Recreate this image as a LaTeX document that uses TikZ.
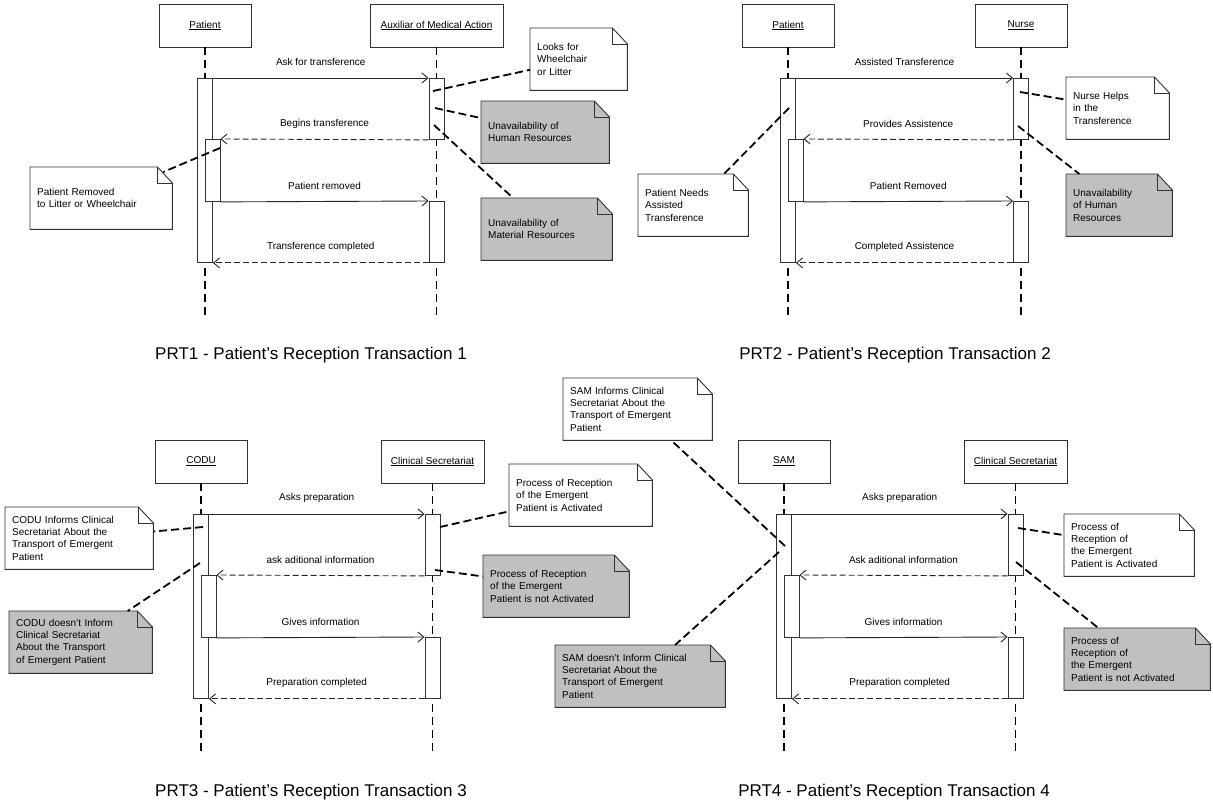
\documentclass[tikz,border=0pt]{standalone}
\usepackage{fontspec}
\setmainfont{Liberation Sans}
\usetikzlibrary{positioning, arrows.meta, backgrounds}
\definecolor{notegray}{RGB}{192,192,192}
\definecolor{linecol}{RGB}{50,50,50}

\begin{document}
\begin{tikzpicture}[x=1pt, y=-1pt, every node/.style={font=\fontsize{10}{12.4}\selectfont}]
  \tikzstyle{actor} = [rectangle, draw=linecol, line width=0.9pt, fill=white, minimum width=92pt, minimum height=43pt, inner sep=0pt]
  \tikzstyle{act} = [rectangle, draw=linecol, line width=0.9pt, fill=white, minimum width=15pt, inner sep=0pt, anchor=north]
  \tikzstyle{note} = [rectangle, anchor=north west, minimum height=62pt, inner xsep=7pt, inner ysep=0pt, align=left]
  \tikzstyle{lifeline} = [draw=black, line width=1.3pt, dash pattern=on 8pt off 5pt]
  \tikzstyle{msg} = [draw=black!85, line width=0.9pt, -{Straight Barb[length=6pt,width=10pt]}]
  \tikzstyle{reply} = [msg, dash pattern=on 6pt off 3pt]
  \tikzstyle{noteline} = [draw=black, line width=1.8pt, dash pattern=on 8pt off 4pt]
  \tikzstyle{title} = [font=\fontsize{17}{20}\selectfont]

  \useasboundingbox (0,0) rectangle (1213,802);
  \coordinate (topend) at (0,319);
  \coordinate (botend) at (0,755);

  \node (pat1) [actor] at (205,25.5) {\underline{Patient}};
  \node (aux1) [actor, minimum width=133pt] at (436.5,25.5) {\underline{Auxiliar of Medical Action}};
  \node (pat2) [actor] at (788,25.5) {\underline{Patient}};
  \node (nurse2) [actor] at (1021,25.5) {\underline{Nurse}};
  \node (codu3) [actor] at (201,461.5) {\underline{CODU}};
  \node (cs3) [actor, minimum width=103pt] at (432.5,461.5) {\underline{Clinical Secretariat}};
  \node (sam4) [actor] at (784,461.5) {\underline{SAM}};
  \node (cs4) [actor, minimum width=103pt] at (1015.5,461.5) {\underline{Clinical Secretariat}};

  \foreach \n in {pat1, aux1, pat2, nurse2}
    \draw [lifeline] (\n.south) -- (\n.south |- topend);
  \foreach \n in {codu3, cs3, sam4, cs4}
    \draw [lifeline] (\n.south) -- (\n.south |- botend);

  \node (pat1a) [act, minimum height=184pt] at (205,78) {};
  \node (pat1b) [act, minimum height=62pt] at (212.5,139) {};
  \node (aux1a) [act, minimum height=61pt] at (436.5,78) {};
  \node (aux1b) [act, minimum height=61pt] at (436.5,201) {};

  \node (pat2a) [act, minimum height=184pt] at (788,78) {};
  \node (pat2b) [act, minimum height=62pt] at (795.5,139) {};
  \node (nurse2a) [act, minimum height=61pt] at (1021,78) {};
  \node (nurse2b) [act, minimum height=61pt] at (1021,201) {};

  \node (codu3a) [act, minimum height=184pt] at (201,514) {};
  \node (codu3b) [act, minimum height=62pt] at (208.5,575) {};
  \node (cs3a) [act, minimum height=61pt] at (432.5,514) {};
  \node (cs3b) [act, minimum height=61pt] at (432.5,637) {};

  \node (sam4a) [act, minimum height=184pt] at (784,514) {};
  \node (sam4b) [act, minimum height=62pt] at (791.5,575) {};
  \node (cs4a) [act, minimum height=61pt] at (1015.5,514) {};
  \node (cs4b) [act, minimum height=61pt] at (1015.5,637) {};

  \draw [msg] (pat1a.north east) -- node (m1a) [yshift=16pt] {Ask for transference} (aux1a.north west);
  \draw [reply] (aux1a.south west) -- node (m1b) [yshift=16pt] {Begins transference} (pat1b.north east);
  \draw [msg] (pat1b.south east) -- node (m1c) [yshift=16pt] {Patient removed} (aux1b.north west);
  \draw [reply] (aux1b.south west) -- node (m1d) [yshift=16pt] {Transference completed} (pat1a.south east);

  \draw [msg] (pat2a.north east) -- node (m2a) [yshift=16pt] {Assisted Transference} (nurse2a.north west);
  \draw [reply] (nurse2a.south west) -- node (m2b) [yshift=16pt] {Provides Assistence} (pat2b.north east);
  \draw [msg] (pat2b.south east) -- node (m2c) [yshift=16pt] {Patient Removed} (nurse2b.north west);
  \draw [reply] (nurse2b.south west) -- node (m2d) [yshift=16pt] {Completed Assistence} (pat2a.south east);

  \draw [msg] (codu3a.north east) -- node (m3a) [yshift=16pt] {Asks preparation} (cs3a.north west);
  \draw [reply] (cs3a.south west) -- node (m3b) [yshift=16pt] {ask aditional information} (codu3b.north east);
  \draw [msg] (codu3b.south east) -- node (m3c) [yshift=16pt] {Gives information} (cs3b.north west);
  \draw [reply] (cs3b.south west) -- node (m3d) [yshift=16pt] {Preparation completed} (codu3a.south east);

  \draw [msg] (sam4a.north east) -- node (m4a) [yshift=16pt] {Asks preparation} (cs4a.north west);
  \draw [reply] (cs4a.south west) -- node (m4b) [yshift=16pt] {Ask aditional information} (sam4b.north east);
  \draw [msg] (sam4b.south east) -- node (m4c) [yshift=16pt] {Gives information} (cs4b.north west);
  \draw [reply] (cs4b.south west) -- node (m4d) [yshift=16pt] {Preparation completed} (sam4a.south east);

  \node (looks) [note, text width=83pt] at (530,28) {Looks for\\Wheelchair\\or Litter};
  \node (human1) [note, text width=114pt] at (481,101) {Unavailability of\\Human Resources};
  \node (material1) [note, text width=117pt] at (481,198) {Unavailability of\\Material Resources};
  \node (removed1) [note, text width=128pt] at (30,167) {Patient Removed\\to Litter or Wheelchair};

  \node (helps2) [note, text width=89pt] at (1066,77) {Nurse Helps\\in the\\Transference};
  \node (human2) [note, text width=92pt] at (1066,174) {Unavailability\\of Human\\Resources};
  \node (needs2) [note, text width=96pt] at (638,174) {Patient Needs\\Assisted\\Transference};

  \node (inform3) [note, text width=134pt] at (5,507) {CODU Informs Clinical\\Secretariat About the\\Transport of Emergent\\Patient};
  \node (noinform3) [note, text width=129pt] at (9,611) {CODU doesn't Inform\\Clinical Secretariat\\About the Transport\\of Emergent Patient};
  \node (active3) [note, text width=129pt] at (509,464) {Process of Reception\\of the Emergent\\Patient is Activated};
  \node (inactive3) [note, text width=132pt] at (483,555) {Process of Reception\\of the Emergent\\Patient is not Activated};

  \node (inform4) [note, text width=135pt] at (563,378) {SAM Informs Clinical\\Secretariat About the\\Transport of Emergent\\Patient};
  \node (noinform4) [note, text width=156pt] at (555,645) {SAM doesn't Inform Clinical\\Secretariat About the\\Transport of Emergent\\Patient};
  \node (active4) [note, text width=116pt] at (1064,514) {Process of\\Reception of\\the Emergent\\Patient is Activated};
  \node (inactive4) [note, text width=132pt] at (1064,628) {Process of\\Reception of\\the Emergent\\Patient is not Activated};

  \coordinate (c1a) at (433,91);
  \coordinate (c1b) at (435,108);
  \coordinate (c1c) at (434,125);
  \coordinate (c1d) at (220,148);
  \coordinate (c2a) at (1020,92);
  \coordinate (c2b) at (1018,126);
  \coordinate (c2c) at (789,108);
  \coordinate (c3a) at (203,527);
  \coordinate (c3b) at (200,563);
  \coordinate (c3c) at (440,527);
  \coordinate (c3d) at (435,570);
  \coordinate (c4a) at (785,546);
  \coordinate (c4b) at (779,552);
  \coordinate (c4c) at (1018,528);
  \coordinate (c4d) at (1016,562);

  \draw [noteline] (c1a) -- (looks);
  \draw [noteline] (c1b) -- (human1);
  \draw [noteline] (c1c) -- (material1);
  \draw [noteline, shorten >=-10pt] (c1d) -- (removed1);
  \draw [noteline] (c2a) -- (helps2);
  \draw [noteline] (c2b) -- (human2);
  \draw [noteline] (c2c) -- (needs2);
  \draw [noteline] (c3a) -- (inform3);
  \draw [noteline] (c3b) -- (noinform3);
  \draw [noteline] (c3c) -- (active3);
  \draw [noteline] (c3d) -- (inactive3);
  \draw [noteline] (c4a) -- (inform4);
  \draw [noteline] (c4b) -- (noinform4);
  \draw [noteline] (c4c) -- (active4);
  \draw [noteline] (c4d) -- (inactive4);

  \node (title1) [title] at (311,355) {PRT1 - Patient’s Reception Transaction 1};
  \node (title2) [title] at (895,355) {PRT2 - Patient’s Reception Transaction 2};
  \node (title3) [title] at (311,792) {PRT3 - Patient’s Reception Transaction 3};
  \node (title4) [title] at (894,792) {PRT4 - Patient’s Reception Transaction 4};

  \begin{scope}[on background layer]
    \fill [white] (0,0) rectangle (1213,802);
    \foreach \n/\c in {looks/white, human1/notegray, material1/notegray, removed1/white, helps2/white, human2/notegray, needs2/white, inform3/white, noinform3/notegray, active3/white, inactive3/notegray, inform4/white, noinform4/notegray, active4/white, inactive4/notegray} {
      \filldraw [fill=\c, draw=linecol, line width=0.9pt] (\n.south west) -- (\n.north west) -- ([xshift=-15pt]\n.north east) -- ([yshift=-16pt]\n.north east) -- (\n.south east) -- cycle;
      \draw [linecol, line width=0.9pt] ([xshift=-15pt]\n.north east) |- ([yshift=-16pt]\n.north east);
    }
  \end{scope}
\end{tikzpicture}
\end{document}
